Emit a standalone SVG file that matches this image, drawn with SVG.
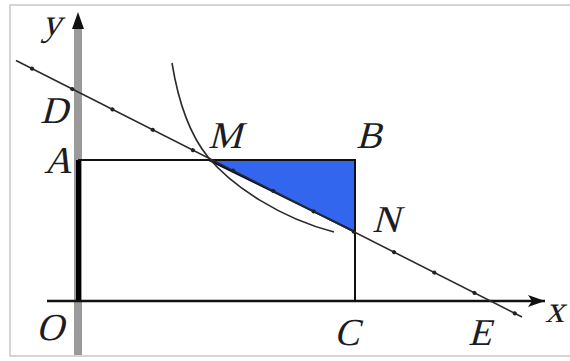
<svg xmlns="http://www.w3.org/2000/svg" width="570" height="361" viewBox="0 0 570 361">
<style>
.edge{stroke:#111;stroke-width:2;fill:none}
.thin{stroke:#2a2a2a;stroke-width:1.6;fill:none}
.dots{stroke:#222;stroke-width:4;stroke-linecap:round;stroke-dasharray:0.1 45;fill:none}
.lbl{font-family:"Liberation Serif","Times New Roman",serif;font-size:38px;fill:#1c1c24}
</style>
<defs>
<marker id="arrX" markerWidth="18" markerHeight="12" refX="17" refY="6" orient="auto" markerUnits="userSpaceOnUse">
<path d="M0,0 L17,6 L0,12 L4,6 Z" fill="#111"/>
</marker>
</defs>
<rect id="frame" x="10" y="5" width="580" height="351" fill="#fff" stroke="#c8c8c8" stroke-width="1.5"/>
<g id="yaxis">
<line x1="78" y1="26" x2="78" y2="355" stroke="#9a9a9a" stroke-width="8"/>
<path d="M78,12 L84,29 L72,29 Z" fill="#111"/>
<line x1="78.5" y1="160" x2="78.5" y2="301" stroke="#000" stroke-width="5"/>
</g>
<g id="xaxis">
<line x1="47" y1="301" x2="545" y2="301" stroke="#111" stroke-width="2.5" marker-end="url(#arrX)"/>
</g>
<g id="triangle">
<polygon points="209,160 355,160 355,232" fill="#3366ee" stroke="#0a0a30" stroke-width="2"/>
</g>
<g id="rect">
<polyline class="edge" points="78,160 355,160 355,301"/>
</g>
<g id="connectors">
<line class="thin" x1="16" y1="60.5" x2="522" y2="317"/>
<line class="dots" x1="32" y1="68.6" x2="522" y2="317"/>
<path class="thin" d="M172,63 C178,100 190,135 208,157 C232,186 280,218 334,232"/>
</g>
<g id="labels">
<text class="lbl" transform="translate(42,35) skewX(-15)">y</text>
<text class="lbl" transform="translate(40,123) skewX(-15)">D</text>
<text class="lbl" transform="translate(44,173) skewX(-15)">A</text>
<text class="lbl" transform="translate(208,148) skewX(-15)">M</text>
<text class="lbl" transform="translate(356,148) skewX(-15)">B</text>
<text class="lbl" transform="translate(372,232) skewX(-15)">N</text>
<text class="lbl" transform="translate(36,340) skewX(-15)">O</text>
<text class="lbl" transform="translate(334,345) skewX(-15)">C</text>
<text class="lbl" transform="translate(468,345) skewX(-15)">E</text>
<text class="lbl" transform="translate(545,322) skewX(-15)">x</text>
</g>
</svg>
